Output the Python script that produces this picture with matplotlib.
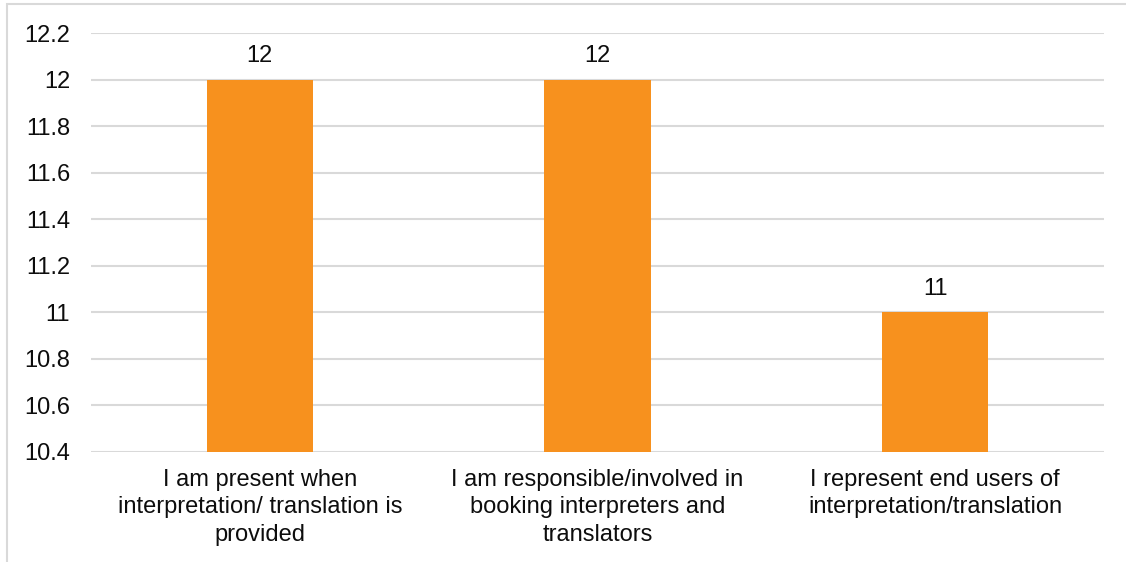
import matplotlib.pyplot as plt
import numpy as np

categories = [
    "I am present when\ninterpretation/ translation is\nprovided",
    "I am responsible/involved in\nbooking interpreters and\ntranslators",
    "I represent end users of\ninterpretation/translation",
]
values = [12, 12, 11]
yticks = [10.4, 10.6, 10.8, 11.0, 11.2, 11.4, 11.6, 11.8, 12.0, 12.2]
ytick_labels = ["10.4", "10.6", "10.8", "11", "11.2", "11.4", "11.6", "11.8", "12", "12.2"]

plt.rcParams['font.family'] = ['Liberation Sans', 'DejaVu Sans']

W, H = 1126, 562
fig = plt.figure(figsize=(W / 100, H / 100), dpi=100)
txt = "#0d0d0d"
fs = 17

# outer chart border (partly cut off on the right and bottom)
border = plt.Rectangle((7 / W, -0.1), 1.2, 1 - 4 / H + 0.1, transform=fig.transFigure,
                       fill=False, edgecolor="#D9D9D9", linewidth=1.5)
fig.patches.append(border)

ax = fig.add_axes([91 / W, 1 - 452 / H, (1104 - 91) / W, (452 - 33) / H])

x = np.arange(len(categories))
bars = ax.bar(x, values, width=0.314, color="#F7911E", zorder=3)

ax.set_xlim(-0.5, len(categories) - 0.5)
ax.set_ylim(10.4, 12.2)
ax.set_yticks(yticks)
ax.set_yticklabels(ytick_labels)
ax.set_xticks(x)
ax.set_xticklabels(categories, linespacing=1.33)

ax.grid(axis="y", color="#D9D9D9", linewidth=1.5, zorder=0)
for s in ax.spines.values():
    s.set_visible(False)
ax.tick_params(axis="both", length=0, labelsize=fs, labelcolor=txt)
ax.tick_params(axis="y", pad=15)
ax.tick_params(axis="x", pad=12)

for b, v in zip(bars, values):
    ax.annotate(str(v), (b.get_x() + b.get_width() / 2, v), xytext=(0, 12.3),
                textcoords="offset points", ha="center", va="baseline",
                fontsize=fs, color=txt)

fig.savefig("out.png", dpi=100)
